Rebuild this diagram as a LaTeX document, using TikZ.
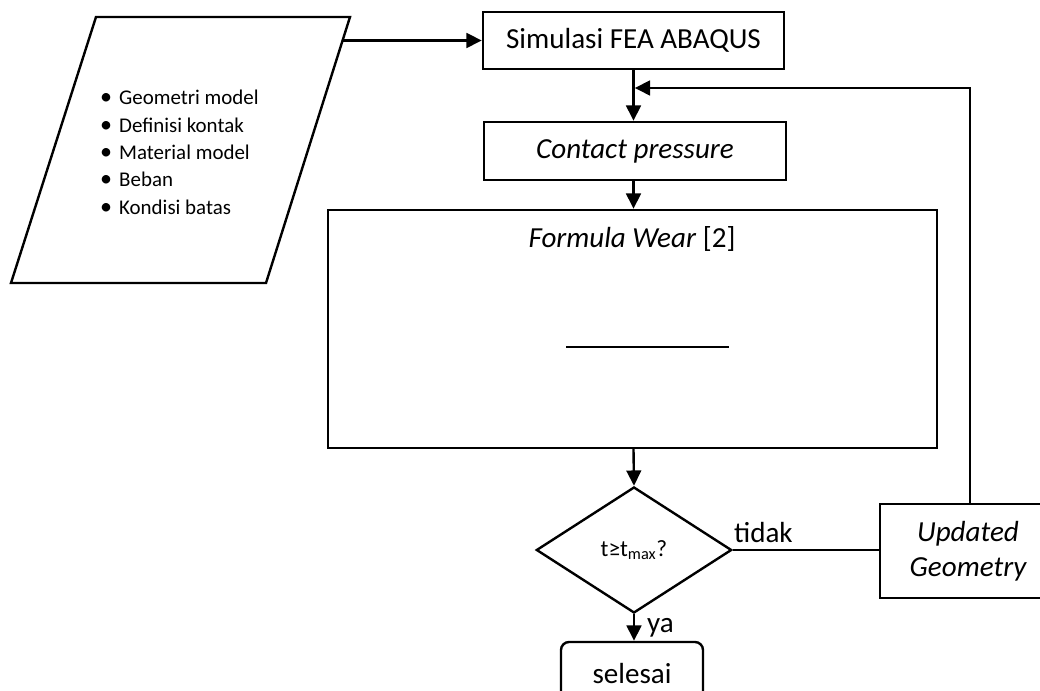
\documentclass[tikz,border=0pt]{standalone}
\usepackage{fontspec}
\setmainfont{Carlito}
\usetikzlibrary{arrows.meta,shapes.geometric}
\newcommand\mainsz{\fontsize{21.8}{26.6}\selectfont}
\newcommand\smallsz{\fontsize{15.7}{20.6}\selectfont}
\newcommand\dsz{\fontsize{17.5}{21}\selectfont}
\newcommand\bul{\makebox[14.25pt][l]{\scalebox{1.15}{•}}}
\begin{document}
\begin{tikzpicture}[x=0.75pt,y=-0.75pt,line width=1.8pt,
  box/.style={draw,rectangle,inner sep=0pt,font=\mainsz,align=center},
  arr/.style={-{Triangle[length=11.5pt,width=11pt]}},
  lbl/.style={inner sep=0pt,font=\mainsz}]
\useasboundingbox (0,0) rectangle (1040,691);
\clip (0,0) rectangle (1040,691);
% input parallelogram
\coordinate (p1) at (96,17);
\coordinate (p2) at (350,17);
\coordinate (p3) at (266,283);
\coordinate (p4) at (11,283);
\draw (p1) -- (p2) -- (p3) -- (p4) -- cycle;
\coordinate (pin) at (342.6,40.5);
\node[anchor=west,inner sep=0pt,font=\smallsz] (list) at (99,154) {%
  \begin{tabular}{@{}l@{}}
  \bul Geometri model\\
  \bul Definisi kontak\\
  \bul Material model\\
  \bul Beban\\
  \bul Kondisi batas
  \end{tabular}};
% main column
\coordinate (colx) at (633.5,0);
\node[box,minimum width=225.75pt,minimum height=42.75pt] (sim) at (633.5,40.5) {Simulasi FEA ABAQUS};
\node[box,minimum width=226.5pt,minimum height=43.5pt] (cp) at (635,151) {\itshape Contact pressure};
\node[box,minimum width=456.75pt,minimum height=178.5pt] (fw) at (632.5,329) {};
\node[lbl,anchor=base] (fwt) at (632,248) {\textit{Formula Wear} [2]};
\draw (566,347) -- (729,347);
\node[draw,diamond,inner sep=0pt,aspect=1.54,minimum width=146.5pt,minimum height=94.5pt,font=\dsz] (dec) at (634,550) {t≥t\textsubscript{max}?};
\node[box,minimum width=132pt,minimum height=70.5pt] (upd) at (968,551) {\itshape Updated\\\itshape Geometry};
\node[box,rounded corners=6pt,minimum width=106.5pt,minimum height=48pt] (fin) at (632,674) {selesai};
\coordinate (fb) at (633.5,88);
% connectors
\draw[arr] (pin) -- (sim.west);
\draw[arr] (sim.south -| colx) -- (cp.north -| colx);
\draw[arr] (cp.south -| colx) -- (fw.north -| colx);
\draw[arr] (fw.south -| colx) -- (dec.north);
\draw[arr] (dec.south) -- (fin.north -| dec.south);
\draw (dec.east) -- (dec.east -| upd.west);
\draw[arr,shorten >=0.9pt] (upd.north -| 970,0) |- (fb);
% labels
\node[lbl,anchor=base west] (tidak) at (dec.east |- 0,543) {tidak};
\node[lbl,anchor=base west] (ya) at (646,633) {ya};
\end{tikzpicture}
\end{document}
